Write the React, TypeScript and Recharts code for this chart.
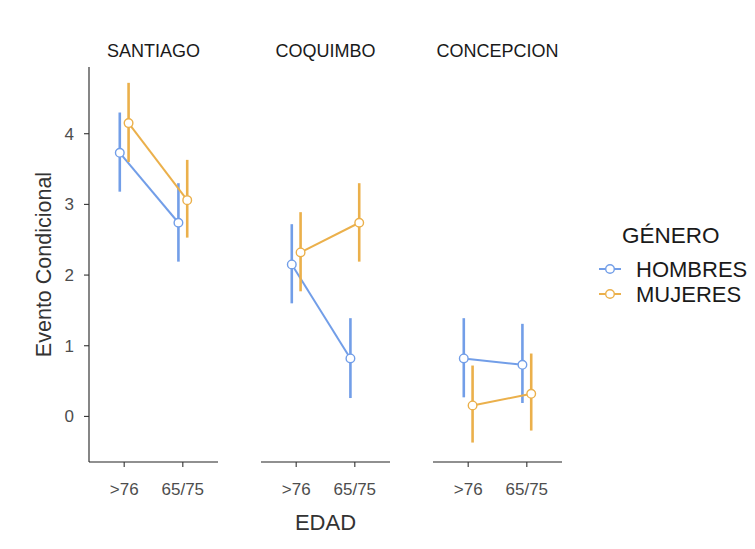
import React from "react";
import { LineChart, Line, XAxis, YAxis, ErrorBar } from "recharts";

const CIUDADES = ["SANTIAGO", "COQUIMBO", "CONCEPCION"];
const EDAD = [">76", "65/75"];
const Y_TICKS = [0, 1, 2, 3, 4];

// means per city, [>76, 65/75]
const HOMBRES_MEAN = [[3.73, 2.74], [2.15, 0.82], [0.82, 0.73]];
const HOMBRES_LO = [[3.18, 2.19], [1.6, 0.26], [0.27, 0.19]];
const HOMBRES_HI = [[4.3, 3.3], [2.72, 1.39], [1.39, 1.31]];

const MUJERES_MEAN = [[4.15, 3.06], [2.32, 2.74], [0.155, 0.32]];
const MUJERES_LO = [[3.6, 2.53], [1.77, 2.19], [-0.37, -0.2]];
const MUJERES_HI = [[4.72, 3.63], [2.89, 3.3], [0.72, 0.89]];

const BLUE = "#729ee8";
const ORANGE = "#ebb04b";
const DODGE = 0.075;
const FONT = "'Liberation Sans', Arial, sans-serif";

const PLOT_TOP = 67;
const PLOT_H = 395;
const PANEL_W = 129;
const PANEL_LEFT = [89, 261, 433];
const X_AXIS_H = 45;
const Y_AXIS_W = 49;

function serie(mean: number[][], lo: number[][], hi: number[][], city: number, shift: number) {
    return EDAD.map((_, i) => ({
        x: i + 1 + shift,
        y: mean[city][i],
        err: [mean[city][i] - lo[city][i], hi[city][i] - mean[city][i]],
    }));
}

function Panel({ city }: { city: number }) {
    const first = city === 0;
    const left = first ? PANEL_LEFT[0] - Y_AXIS_W : PANEL_LEFT[city];
    const width = first ? PANEL_W + Y_AXIS_W : PANEL_W;
    const hombres = serie(HOMBRES_MEAN, HOMBRES_LO, HOMBRES_HI, city, -DODGE);
    const mujeres = serie(MUJERES_MEAN, MUJERES_LO, MUJERES_HI, city, DODGE);
    return (
        <div style={{ position: "absolute", left, top: PLOT_TOP }}>
            <LineChart width={width} height={PLOT_H + X_AXIS_H} margin={{ top: 0, right: 0, bottom: 0, left: 0 }}>
                <XAxis
                    type="number"
                    dataKey="x"
                    domain={[0.4, 2.6]}
                    ticks={[1, 2]}
                    allowDataOverflow
                    tickFormatter={(v) => EDAD[Math.round(v) - 1]}
                    height={X_AXIS_H}
                    axisLine={{ stroke: "#222", strokeWidth: 1.1 }}
                    tickLine={{ stroke: "#333", strokeWidth: 1.1 }}
                    tickSize={5}
                    tickMargin={16}
                    tick={{ fill: "#4d4d4d", fontSize: 17, fontFamily: FONT }}
                />
                <YAxis
                    type="number"
                    domain={[-0.645, 4.944]}
                    ticks={Y_TICKS}
                    allowDataOverflow
                    hide={!first}
                    width={first ? Y_AXIS_W : 0}
                    axisLine={{ stroke: "#222", strokeWidth: 1.1 }}
                    tickLine={{ stroke: "#333", strokeWidth: 1.1 }}
                    tickSize={5}
                    tickMargin={10}
                    tick={{ fill: "#4d4d4d", fontSize: 17, fontFamily: FONT }}
                />
                <Line
                    data={hombres}
                    dataKey="y"
                    stroke={BLUE}
                    strokeWidth={2}
                    dot={{ r: 4.3, fill: "#fff", stroke: BLUE, strokeWidth: 1.4 }}
                    isAnimationActive={false}
                >
                    <ErrorBar dataKey="err" direction="y" width={0} stroke={BLUE} strokeWidth={2.6} />
                </Line>
                <Line
                    data={mujeres}
                    dataKey="y"
                    stroke={ORANGE}
                    strokeWidth={2}
                    dot={{ r: 4.3, fill: "#fff", stroke: ORANGE, strokeWidth: 1.4 }}
                    isAnimationActive={false}
                >
                    <ErrorBar dataKey="err" direction="y" width={0} stroke={ORANGE} strokeWidth={2.6} />
                </Line>
            </LineChart>
        </div>
    );
}

export default function App() {
    return (
        <div style={{ position: "absolute", left: 0, top: 0, width: 755, height: 549, background: "#fff", fontFamily: FONT }}>
            {CIUDADES.map((_, i) => (
                <Panel key={i} city={i} />
            ))}
            <svg width={755} height={549} style={{ position: "absolute", left: 0, top: 0, pointerEvents: "none" }}>
                {CIUDADES.map((c, i) => (
                    <text key={c} x={PANEL_LEFT[i] + PANEL_W / 2} y={57} textAnchor="middle" fontSize={18} fill="#1a1a1a" fontFamily={FONT}>
                        {c}
                    </text>
                ))}
                <text x={(PANEL_LEFT[0] + PANEL_LEFT[2] + PANEL_W) / 2} y={530} textAnchor="middle" fontSize={22} fill="#333" fontFamily={FONT}>
                    EDAD
                </text>
                <text
                    transform={`translate(51, ${PLOT_TOP + PLOT_H / 2}) rotate(-90)`}
                    textAnchor="middle"
                    fontSize={21.5}
                    fill="#333"
                    fontFamily={FONT}
                >
                    Evento Condicional
                </text>
                <text x={622} y={243} fontSize={22.5} fill="#1a1a1a" fontFamily={FONT}>GÉNERO</text>
                {[
                    { name: "HOMBRES", color: BLUE, y: 269 },
                    { name: "MUJERES", color: ORANGE, y: 294 },
                ].map((it) => (
                    <g key={it.name}>
                        <line x1={599} x2={621} y1={it.y} y2={it.y} stroke={it.color} strokeWidth={2} />
                        <circle cx={610} cy={it.y} r={4.3} fill="#fff" stroke={it.color} strokeWidth={1.4} />
                        <text x={636} y={it.y + 8} fontSize={22} fill="#1a1a1a" fontFamily={FONT}>{it.name}</text>
                    </g>
                ))}
            </svg>
        </div>
    );
}
